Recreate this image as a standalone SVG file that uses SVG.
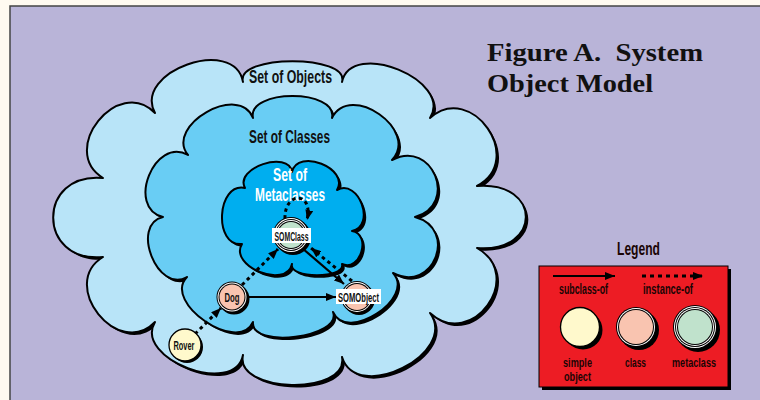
<svg xmlns="http://www.w3.org/2000/svg" xmlns:xlink="http://www.w3.org/1999/xlink" width="760" height="400" viewBox="0 0 760 400">
  <style>
    .shadow { fill: #000; }
    .cloud { stroke: #000; stroke-width: 2; stroke-linejoin: round; }
    .objects { fill: #b8e4f8; }
    .classes { fill: #69cdf4; }
    .metas { fill: #00aeef; }
    .set-label { font-family: "Liberation Sans", Arial, sans-serif; font-size: 19px; font-weight: bold; text-anchor: middle; fill: #111; }
    .set-label.light { fill: #fff; }
    .node-label { font-family: "Liberation Sans", Arial, sans-serif; font-size: 13px; font-weight: bold; text-anchor: middle; fill: #111; }
    .legend-label { font-family: "Liberation Sans", Arial, sans-serif; font-size: 14px; font-weight: bold; text-anchor: middle; fill: #1a0505; }
    .title { font-family: "Liberation Serif", "Times New Roman", serif; font-size: 26px; font-weight: bold; fill: #111; }
    .k { fill: #000; }
    .w { fill: #fff; }
    .plain { fill: #fff9cc; stroke: #000; stroke-width: 1.3; }
    .cls { fill: #f9c4b0; }
    .meta { fill: #c0e2cc; }
    .tag { fill: #fff; }
    .solid { fill: none; stroke: #000; stroke-width: 2.2; marker-end: url(#head); }
    .dotted { fill: none; stroke: #000; stroke-width: 3; stroke-dasharray: 3.5 3.5; marker-end: url(#head); }
  </style>
  <defs>
    <marker id="head" markerUnits="userSpaceOnUse" viewBox="0 0 10 8" markerWidth="10" markerHeight="8" refX="10" refY="4" orient="auto">
      <path d="M0,0 L10,4 L0,8 Z" fill="#000"/>
    </marker>
    <path id="outer-shape" d="M155,113 C132.5,71.5 234.5,35.5 243,82 C235.1,54.3 349.9,54.3 342,82 C351.5,38.6 453.6,80.4 430,118 C471.8,81.1 526.3,160 477,186 C542.1,181 542.1,253 477,248 C526.3,275.7 471.7,351.1 430,313 C459,353.5 357,404.5 342,357 C349.1,395.8 234.3,393.4 243,355 C235.2,397.2 133.1,359 155,322 C118.2,360 57.9,284.6 103,257 C36.6,263.3 36.6,171.7 103,178 C57.9,150.4 118.2,75 155,113 Z"/>
    <path id="middle-shape" d="M188,155 C164.3,125.5 239.7,82.5 253,118 C246.7,88.8 338.3,88.8 332,118 C350.3,81.6 419.9,130.4 392,160 C432.4,138.4 459,204.6 415,217 C458.8,229 433.2,294 393,273 C416.1,298.1 346.5,343.3 333,312 C342.7,337.6 249.9,349.2 253,322 C238.5,354.6 161.9,302.4 187,277 C157.7,294.3 129.9,224.7 163,217 C125.7,207.7 154.7,135.8 188,155 Z"/>
    <path id="inner-shape" d="M245,188 C234,168.1 288.6,149.6 292,172 C297.6,147.6 349.8,168.5 337,190 C358.8,178.3 376.2,225.9 352,231 C371.9,234.2 360.3,272.4 342,264 C346,279 288,279 292,264 C286.4,289.6 228.4,266.4 242,244 C213.2,247 216.6,182 245,188 Z"/>
  </defs>

  <!-- page and panel -->
  <rect x="0" y="0" width="760" height="400" fill="#fffaf0"/>
  <rect x="10" y="6" width="760" height="400" fill="#b9b4d8" stroke="#444" stroke-width="1.5"/>

  <!-- nested sets -->
  <g id="set-of-objects">
    <use xlink:href="#outer-shape" class="shadow" transform="translate(2.5,2.5)"/>
    <use xlink:href="#outer-shape" class="cloud objects"/>
    <text class="set-label" x="290.5" y="83" textLength="83" lengthAdjust="spacingAndGlyphs">Set of Objects</text>
  </g>
  <g id="set-of-classes">
    <use xlink:href="#middle-shape" class="shadow" transform="translate(2.5,2.5)"/>
    <use xlink:href="#middle-shape" class="cloud classes"/>
    <text class="set-label" x="289.5" y="143" textLength="81" lengthAdjust="spacingAndGlyphs">Set of Classes</text>
  </g>
  <g id="set-of-metaclasses">
    <use xlink:href="#inner-shape" class="shadow" transform="translate(2.5,2.5)"/>
    <use xlink:href="#inner-shape" class="cloud metas"/>
    <text class="set-label light" x="290" y="181" textLength="34" lengthAdjust="spacingAndGlyphs">Set of</text>
    <text class="set-label light" x="290" y="201" textLength="70" lengthAdjust="spacingAndGlyphs">Metaclasses</text>
  </g>

  <!-- relations -->
  <g id="connectors">
    <path class="solid" d="M247,297 L336,297"/>
    <path class="solid" d="M302,248 L344,284"/>
    <path class="dotted" d="M352,281 L311,248"/>
    <path class="dotted" d="M242,285 L278,249"/>
    <path class="dotted" d="M195,334 L221,308"/>
    <path class="dotted" d="M285,219 C284,191 314,191 307,220"/>
  </g>

  <!-- objects -->
  <g id="node-somclass">
    <circle class="k" cx="293" cy="237" r="18"/>
    <circle class="k" cx="291" cy="235" r="18"/>
    <circle class="w" cx="291" cy="235" r="17"/>
    <circle class="k" cx="291" cy="235" r="16"/>
    <circle class="w" cx="291" cy="235" r="15"/>
    <circle class="k" cx="291" cy="235" r="14"/>
    <circle class="meta" cx="291" cy="235" r="13"/>
    <rect class="tag" x="272" y="228" width="39" height="15"/>
    <text class="node-label" x="291.5" y="240.5" textLength="34" lengthAdjust="spacingAndGlyphs">SOMClass</text>
  </g>
  <g id="node-somobject">
    <circle class="k" cx="359" cy="299" r="16"/>
    <circle class="k" cx="357" cy="297" r="16"/>
    <circle class="w" cx="357" cy="297" r="15"/>
    <circle class="k" cx="357" cy="297" r="14"/>
    <circle class="cls" cx="357" cy="297" r="13"/>
    <rect class="tag" x="336" y="289" width="45" height="15"/>
    <text class="node-label" x="358.5" y="301.5" textLength="41" lengthAdjust="spacingAndGlyphs">SOMObject</text>
  </g>
  <g id="node-dog">
    <circle class="k" cx="234" cy="299" r="15.5"/>
    <circle class="k" cx="232" cy="297" r="15.5"/>
    <circle class="w" cx="232" cy="297" r="14.5"/>
    <circle class="k" cx="232" cy="297" r="13.5"/>
    <circle class="cls" cx="232" cy="297" r="12.5"/>
    <text class="node-label" x="232" y="301.5" textLength="15" lengthAdjust="spacingAndGlyphs">Dog</text>
  </g>
  <g id="node-rover">
    <circle class="k" cx="187" cy="347" r="16"/>
    <circle class="plain" cx="185" cy="345" r="16"/>
    <text class="node-label" x="184" y="349.5" textLength="21" lengthAdjust="spacingAndGlyphs">Rover</text>
  </g>

  <!-- key -->
  <g id="legend">
    <text class="legend-label" x="638.5" y="255" textLength="43" lengthAdjust="spacingAndGlyphs" style="font-size:18px">Legend</text>
    <rect x="542" y="269" width="189" height="121" fill="#000"/>
    <rect x="539" y="266" width="189" height="121" fill="#ed1c24" stroke="#000" stroke-width="1"/>
    <path class="solid" d="M553,276 L615,276"/>
    <path class="dotted" d="M642,276 L703,276" style="stroke-dasharray:4 4"/>
    <text class="legend-label" x="583.5" y="294" textLength="49" lengthAdjust="spacingAndGlyphs">subclass-of</text>
    <text class="legend-label" x="668" y="294" textLength="50" lengthAdjust="spacingAndGlyphs">instance-of</text>

    <circle class="k" cx="583" cy="330" r="19.5"/>
    <circle class="plain" cx="580" cy="327" r="19.5"/>

    <circle class="k" cx="639" cy="330" r="20"/>
    <circle class="k" cx="636" cy="327" r="20"/>
    <circle class="w" cx="636" cy="327" r="19"/>
    <circle class="k" cx="636" cy="327" r="18"/>
    <circle class="cls" cx="636" cy="327" r="17"/>

    <circle class="k" cx="698" cy="330" r="22"/>
    <circle class="k" cx="695" cy="327" r="22"/>
    <circle class="w" cx="695" cy="327" r="21"/>
    <circle class="k" cx="695" cy="327" r="20"/>
    <circle class="w" cx="695" cy="327" r="19"/>
    <circle class="k" cx="695" cy="327" r="18"/>
    <circle class="meta" cx="695" cy="327" r="17"/>

    <text class="legend-label" x="577.5" y="367" textLength="29" lengthAdjust="spacingAndGlyphs" style="font-size:13px">simple</text>
    <text class="legend-label" x="577.5" y="381" textLength="27" lengthAdjust="spacingAndGlyphs" style="font-size:13px">object</text>
    <text class="legend-label" x="635.5" y="367" textLength="21" lengthAdjust="spacingAndGlyphs" style="font-size:13px">class</text>
    <text class="legend-label" x="694" y="367" textLength="44" lengthAdjust="spacingAndGlyphs" style="font-size:13px">metaclass</text>
  </g>

  <!-- heading -->
  <g id="title">
    <text class="title" x="487" y="61" textLength="216" lengthAdjust="spacingAndGlyphs" xml:space="preserve">Figure A.  System</text>
    <text class="title" x="487" y="92" textLength="166" lengthAdjust="spacingAndGlyphs">Object Model</text>
  </g>
</svg>
